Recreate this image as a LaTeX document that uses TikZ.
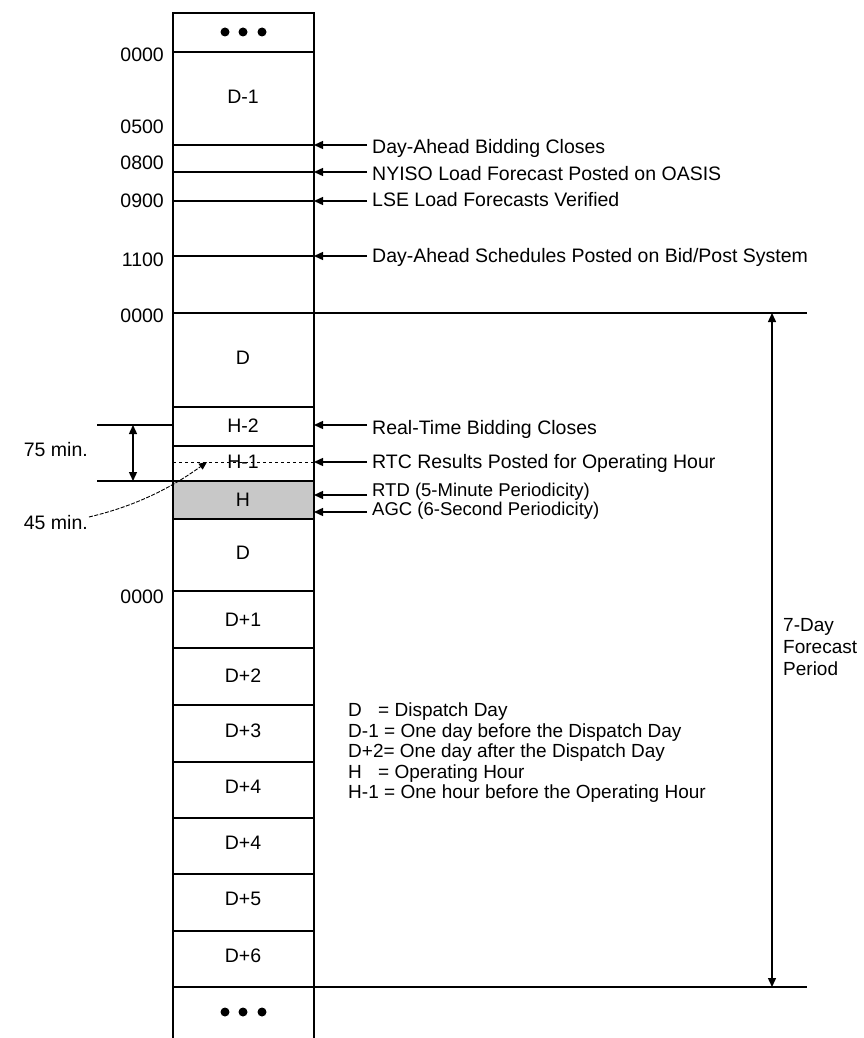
\documentclass[tikz,border=0pt]{standalone}
\usepackage{fontspec}
\setmainfont{Liberation Sans}
\usetikzlibrary{arrows.meta}
\definecolor{hgray}{RGB}{200,200,200}
\begin{document}
\begin{tikzpicture}[x=1pt,y=-1pt,
  every node/.style={font=\fontsize{19.5}{22}\selectfont, inner sep=0pt},
  rule/.style={line width=1.4pt},
  arr/.style={line width=1.4pt,-{Triangle[length=9pt,width=8pt]}},
  darr/.style={line width=1.4pt,{Triangle[length=9pt,width=8pt]}-{Triangle[length=9pt,width=8pt]}},
  lbl/.style={anchor=west, inner xsep=5pt},
  tm/.style={anchor=east},
  cell/.style={anchor=center}]
\useasboundingbox (0,0) rectangle (863,1038);
% operating hour fill
\fill[hgray] (173,481) rectangle (314,519);
% column
\draw[rule] (173,1038) -- (173,13) -- (314,13) -- (314,1038);
\foreach \y in {52,145,172,201,256,407,446,481,519,591,648,705,762,818,874,931}
  \draw[rule] (173,\y) -- (314,\y);
\coordinate (top1) at (807,313);
\coordinate (bot1) at (807,987);
\draw[rule] (173,313) -- (top1);
\draw[rule] (173,987) -- (bot1);
\draw[line width=1pt, dash pattern=on 3pt off 3pt] (173,462) -- (314,462);
% dots
\foreach \x in {225,243,262} {
  \fill (\x,32) circle (4.5pt);
  \fill (\x,1012) circle (4.5pt);
}
% cell labels
\node[cell] (cdm1) at (243,97) {D-1};
\node[cell] (cd1) at (243,358) {D};
\node[cell] (ch2) at (243,426) {H-2};
\node[cell] (ch1) at (243,462) {H-1};
\node[cell] (ch) at (243,500) {H};
\node[cell] (cd2) at (243,553) {D};
\node[cell] (cdp1) at (243,620) {D+1};
\node[cell] (cdp2) at (243,676) {D+2};
\node[cell] (cdp3) at (243,731) {D+3};
\node[cell] (cdp4) at (243,787) {D+4};
\node[cell] (cdp4b) at (243,843) {D+4};
\node[cell] (cdp5) at (243,899) {D+5};
\node[cell] (cdp6) at (243,956) {D+6};
% time labels
\node[tm] (t1) at (164,55) {0000};
\node[tm] (t2) at (164,127) {0500};
\node[tm] (t3) at (164,163) {0800};
\node[tm] (t4) at (164,201) {0900};
\node[tm] (t5) at (164,260) {1100};
\node[tm] (t6) at (164,316) {0000};
\node[tm] (t7) at (164,597) {0000};
% right annotations
\coordinate (e1) at (314,145);
\coordinate (e2) at (314,172);
\coordinate (e3) at (314,201);
\coordinate (e4) at (314,256);
\coordinate (e5) at (314,425);
\coordinate (e6) at (314,462);
\coordinate (e7) at (314,495);
\coordinate (e8) at (314,512);
\node[lbl] (a1) at (367,148) {Day-Ahead Bidding Closes};
\node[lbl] (a2) at (367,174) {NYISO Load Forecast Posted on OASIS};
\node[lbl] (a3) at (367,200) {LSE Load Forecasts Verified};
\node[lbl] (a4) at (367,257) {Day-Ahead Schedules Posted on Bid/Post System};
\node[lbl] (a5) at (367,429) {Real-Time Bidding Closes};
\node[lbl] (a6) at (367,463) {RTC Results Posted for Operating Hour};
\node[lbl, font=\fontsize{18.5}{21}\selectfont] (a7) at (367,492) {RTD (5-Minute Periodicity)};
\node[lbl, font=\fontsize{18.5}{21}\selectfont] (a8) at (367,511) {AGC (6-Second Periodicity)};
\foreach \i in {1,...,8}
  \draw[arr] (a\i.west |- e\i) -- (e\i);
% 75 min
\coordinate (m1) at (97,425);
\coordinate (m2) at (97,481);
\coordinate (m1c) at (173,425);
\coordinate (m2c) at (173,481);
\draw[rule] (m1) -- (m1c);
\draw[rule] (m2) -- (m2c);
\draw[darr] (133,425) -- (133,481);
\node[tm] (l75) at (88,450) {75 min.};
% 45 min
\node[tm] (l45) at (88,523) {45 min.};
\coordinate (h45) at (207,462);
\draw[line width=0.9pt, dash pattern=on 4pt off 1.5pt, -{Triangle[length=8pt,width=7pt]}]
  (89,517) .. controls (140,505) and (175,485) .. (h45);
% 7-day forecast period
\draw[darr] (772,313) -- (772,987);
\node[anchor=west, align=left, font=\fontsize{19}{22}\selectfont] (fp) at (783,647) {7-Day\\Forecast\\Period};
% legend
\node[anchor=west, align=left, font=\fontsize{19}{20.5}\selectfont] (leg) at (348,753)
  {\makebox[30pt][l]{D}= Dispatch Day\\
   \makebox[36pt][l]{D-1}= One day before the Dispatch Day\\
   D+2= One day after the Dispatch Day\\
   \makebox[30pt][l]{H}= Operating Hour\\
   \makebox[36pt][l]{H-1}= One hour before the Operating Hour};
\end{tikzpicture}
\end{document}
